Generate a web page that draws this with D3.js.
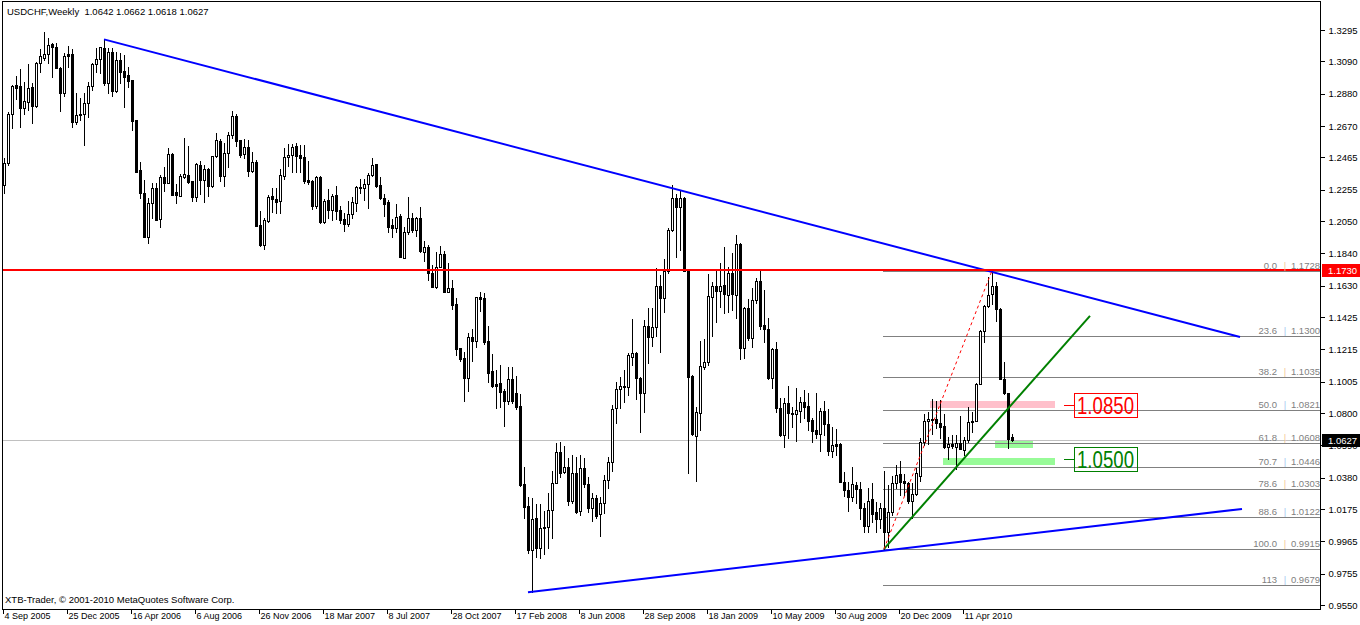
<!DOCTYPE html>
<html><head><meta charset="utf-8">
<script src="https://cdn.jsdelivr.net/npm/d3@7"></script>
<style>
html,body{margin:0;padding:0;background:#fff;}
svg{display:block;font-family:"Liberation Sans",Arial,sans-serif;}
</style></head><body>
<svg id="c" width="1360" height="625"></svg>
<script>
const symbolTitle = "USDCHF,Weekly  1.0642 1.0662 1.0618 1.0627";
const copyright = "XTB-Trader, \u00a9 2001-2010 MetaQuotes Software Corp.";

const opens = [
1.2286,1.2429,1.2748,1.2937,1.2930,1.2787,1.2826,1.2924,1.2800,1.3080,
1.3112,1.3138,1.3204,1.3184,1.3047,1.2885,1.3138,1.3138,1.2696,1.2741,
1.2748,1.2819,1.2930,1.3073,1.3106,1.3178,1.2950,1.3152,1.2898,1.3099,
1.3028,1.3002,1.2969,1.2709,1.2383,1.2234,1.1947,1.2168,1.2266,1.2064,
1.2338,1.2299,1.2487,1.2240,1.2214,1.2338,1.2351,1.2312,1.2208,1.2416,
1.2318,1.2390,1.2279,1.2474,1.2572,1.2344,1.2494,1.2611,1.2735,1.2578,
1.2487,1.2533,1.2377,1.2436,1.2025,1.1895,1.2051,1.2214,1.2195,1.2182,
1.2344,1.2468,1.2481,1.2539,1.2481,1.2468,1.2318,1.2312,1.2149,1.2338,
1.2045,1.2188,1.2123,1.2221,1.2123,1.2064,1.2032,1.2097,1.2168,1.2266,
1.2266,1.2292,1.2351,1.2422,1.2286,1.2201,1.2175,1.2025,1.2006,1.2084,
1.1810,1.1980,1.2071,1.1993,1.2071,1.1849,1.1882,1.1713,1.1622,1.1752,
1.1837,1.1589,1.1615,1.1511,1.1225,1.1159,1.1029,1.1296,1.1270,1.1556,
1.1550,1.1270,1.1075,1.0990,1.0997,1.0945,1.0879,1.1023,1.0932,1.0847,
1.0339,1.0196,0.9910,1.0118,0.9923,1.0053,1.0059,1.0170,1.0346,1.0548,
1.0417,1.0450,1.0228,1.0411,1.0164,1.0443,1.0339,1.0183,1.0248,1.0144,
1.0216,1.0365,1.0482,1.0834,1.0958,1.0971,1.0971,1.1166,1.1192,1.1029,
1.0932,1.1368,1.1296,1.1361,1.1628,1.1550,1.1726,1.1993,1.2201,1.2142,
1.2201,1.1726,1.1042,1.0652,1.0801,1.1101,1.1133,1.1556,1.1628,1.1596,
1.1635,1.1570,1.1713,1.1570,1.1902,1.1225,1.1485,1.1290,1.1537,1.1661,
1.1374,1.1348,1.1029,1.1218,1.0834,1.0659,1.0866,1.0801,1.0795,1.0814,
1.0873,1.0847,1.0756,1.0691,1.0665,1.0814,1.0730,1.0554,1.0600,1.0600,
1.0352,1.0300,1.0255,1.0333,1.0307,1.0183,1.0066,1.0241,1.0157,1.0111,
1.0183,1.0027,1.0157,1.0346,1.0404,1.0359,1.0346,1.0228,1.0274,1.0391,
1.0613,1.0749,1.0756,1.0762,1.0736,1.0717,1.0580,1.0600,1.0580,1.0606,
1.0561,1.0626,1.0743,1.0749,1.0990,1.1335,1.1498,1.1576,1.1628,1.1478,
1.1023,1.0932,1.0642];
const highs = [
1.2461,1.2761,1.2937,1.2995,1.3041,1.2956,1.3073,1.2950,1.3086,1.3171,
1.3282,1.3243,1.3210,1.3210,1.3054,1.3145,1.3191,1.3171,1.2885,1.2852,
1.2885,1.2956,1.3080,1.3178,1.3184,1.3236,1.3178,1.3178,1.3152,1.3145,
1.3132,1.3054,1.2969,1.2709,1.2436,1.2318,1.2201,1.2299,1.2299,1.2351,
1.2403,1.2526,1.2494,1.2292,1.2357,1.2591,1.2539,1.2312,1.2429,1.2442,
1.2416,1.2396,1.2474,1.2624,1.2585,1.2559,1.2631,1.2767,1.2748,1.2578,
1.2585,1.2578,1.2500,1.2448,1.2116,1.2071,1.2221,1.2266,1.2266,1.2390,
1.2526,1.2552,1.2552,1.2559,1.2546,1.2546,1.2442,1.2318,1.2344,1.2344,
1.2195,1.2260,1.2227,1.2279,1.2149,1.2103,1.2182,1.2208,1.2279,1.2325,
1.2325,1.2364,1.2461,1.2422,1.2338,1.2227,1.2188,1.2064,1.2162,1.2097,
1.2012,1.2208,1.2103,1.2077,1.2142,1.1921,1.1895,1.1765,1.1849,1.1889,
1.1856,1.1778,1.1667,1.1550,1.1225,1.1198,1.1322,1.1348,1.1556,1.1589,
1.1583,1.1368,1.1185,1.1081,1.1114,1.0958,1.1101,1.1101,1.1042,1.0925,
1.0450,1.0255,1.0248,1.0209,1.0209,1.0164,1.0281,1.0424,1.0606,1.0613,
1.0587,1.0508,1.0528,1.0515,1.0528,1.0508,1.0385,1.0281,1.0268,1.0255,
1.0398,1.0515,1.0853,1.1003,1.1036,1.1081,1.1192,1.1413,1.1198,1.1036,
1.1407,1.1485,1.1485,1.1745,1.1700,1.1804,1.2006,1.2286,1.2227,1.2253,
1.2208,1.1732,1.1049,1.0840,1.1270,1.1283,1.1706,1.1654,1.1739,1.1778,
1.1882,1.1752,1.1843,1.1960,1.1908,1.1491,1.1544,1.1615,1.1680,1.1739,
1.1602,1.1420,1.1225,1.1264,1.0899,1.0899,1.0977,1.0840,1.0964,1.0906,
1.0951,1.0932,1.0769,1.0932,1.0834,1.0879,1.0827,1.0710,1.0697,1.0606,
1.0417,1.0352,1.0450,1.0352,1.0352,1.0216,1.0313,1.0346,1.0222,1.0216,
1.0424,1.0333,1.0391,1.0463,1.0489,1.0404,1.0352,1.0346,1.0443,1.0639,
1.0795,1.0808,1.0892,1.0879,1.0886,1.0795,1.0645,1.0658,1.0658,1.0782,
1.0645,1.0840,1.0808,1.0997,1.1342,1.1504,1.1687,1.1728,1.1654,1.1485,
1.1133,1.0932,1.0662];
const lows = [
1.2234,1.2416,1.2657,1.2846,1.2663,1.2748,1.2774,1.2689,1.2793,1.3021,
1.3099,1.3080,1.2989,1.3047,1.2767,1.2865,1.3054,1.2663,1.2683,1.2709,
1.2546,1.2728,1.2904,1.3021,1.3015,1.2937,1.2885,1.2865,1.2891,1.2950,
1.2793,1.2924,1.2644,1.2370,1.2201,1.1947,1.1908,1.2071,1.2058,1.2012,
1.2247,1.2299,1.2221,1.2168,1.2214,1.2331,1.2299,1.2182,1.2182,1.2227,
1.2175,1.2214,1.2273,1.2468,1.2312,1.2279,1.2403,1.2591,1.2539,1.2468,
1.2461,1.2344,1.2370,1.2019,1.1889,1.1869,1.2045,1.2110,1.2103,1.2103,
1.2325,1.2409,1.2370,1.2370,1.2370,1.2299,1.2292,1.2129,1.2136,1.2038,
1.2038,1.2071,1.2058,1.2064,1.2038,1.1986,1.2019,1.2071,1.2116,1.2234,
1.2188,1.2136,1.2344,1.2273,1.2195,1.2084,1.1980,1.1947,1.1980,1.1817,
1.1810,1.1967,1.1980,1.1954,1.1849,1.1791,1.1667,1.1622,1.1615,1.1752,
1.1589,1.1589,1.1478,1.1179,1.1140,1.0879,1.0945,1.1140,1.1231,1.1465,
1.1251,1.1003,1.0971,1.0834,1.0840,1.0717,1.0860,1.0866,1.0827,1.0326,
1.0118,0.9890,0.9636,0.9864,0.9858,0.9884,0.9923,0.9988,1.0346,1.0385,
1.0411,1.0203,1.0215,1.0150,1.0138,1.0320,1.0157,1.0098,1.0118,1.0001,
1.0150,1.0313,1.0424,1.0736,1.0834,1.0873,1.0919,1.1114,1.0892,1.0678,
1.0808,1.1127,1.1238,1.1303,1.1198,1.1459,1.1713,1.1986,1.1817,1.1863,
1.1726,1.0411,1.0659,1.0359,1.0691,1.1088,1.1114,1.1303,1.1394,1.1491,
1.1452,1.1459,1.1472,1.1420,1.1153,1.1159,1.1277,1.1231,1.1517,1.1348,
1.1264,1.1023,1.0964,1.0808,1.0652,1.0580,1.0639,1.0710,1.0619,1.0743,
1.0769,1.0691,1.0613,1.0639,1.0554,1.0659,1.0528,1.0515,1.0528,1.0352,
1.0261,1.0164,1.0228,1.0215,1.0111,1.0027,1.0027,1.0092,1.0027,1.0053,
0.9915,0.9929,1.0138,1.0313,1.0268,1.0268,1.0215,1.0118,1.0268,1.0359,
1.0593,1.0600,1.0665,1.0704,1.0639,1.0574,1.0502,1.0574,1.0437,1.0567,
1.0528,1.0613,1.0678,1.0749,1.0990,1.1264,1.1491,1.1511,1.1400,1.1023,
1.0925,1.0574,1.0618];
const closes = [
1.2429,1.2748,1.2930,1.2917,1.2787,1.2832,1.2917,1.2800,1.3080,1.3125,
1.3138,1.3197,1.3184,1.3047,1.2885,1.3125,1.3125,1.2696,1.2741,1.2748,
1.2819,1.2930,1.3073,1.3106,1.3184,1.2950,1.3152,1.2898,1.3099,1.3021,
1.2989,1.2963,1.2702,1.2370,1.2234,1.1947,1.2168,1.2266,1.2058,1.2338,
1.2299,1.2487,1.2221,1.2221,1.2344,1.2357,1.2305,1.2208,1.2422,1.2318,
1.2390,1.2279,1.2474,1.2578,1.2344,1.2494,1.2611,1.2735,1.2572,1.2481,
1.2533,1.2377,1.2436,1.2019,1.1895,1.2058,1.2208,1.2195,1.2175,1.2351,
1.2468,1.2481,1.2533,1.2474,1.2461,1.2312,1.2305,1.2149,1.2338,1.2045,
1.2182,1.2123,1.2214,1.2116,1.2058,1.2032,1.2097,1.2175,1.2273,1.2273,
1.2292,1.2351,1.2416,1.2279,1.2201,1.2162,1.2012,1.2006,1.2077,1.1817,
1.1980,1.2071,1.1993,1.2071,1.1856,1.1882,1.1713,1.1622,1.1752,1.1837,
1.1589,1.1615,1.1504,1.1218,1.1153,1.1029,1.1296,1.1270,1.1556,1.1543,
1.1264,1.1062,1.0977,1.0977,1.0938,1.0879,1.1023,1.0879,1.0840,1.0333,
1.0190,0.9910,1.0112,0.9923,1.0053,1.0059,1.0170,1.0346,1.0548,1.0411,
1.0450,1.0228,1.0411,1.0157,1.0443,1.0339,1.0183,1.0248,1.0131,1.0216,
1.0365,1.0482,1.0827,1.0958,1.0977,1.0977,1.1179,1.1192,1.1029,1.0932,
1.1368,1.1296,1.1361,1.1628,1.1550,1.1726,1.1993,1.2201,1.2142,1.2201,
1.1726,1.1036,1.0665,1.0808,1.1107,1.1133,1.1563,1.1628,1.1596,1.1628,
1.1576,1.1713,1.1576,1.1902,1.1225,1.1485,1.1290,1.1537,1.1661,1.1368,
1.1348,1.1029,1.1218,1.0834,1.0659,1.0866,1.0801,1.0795,1.0821,1.0873,
1.0840,1.0749,1.0684,1.0665,1.0814,1.0730,1.0554,1.0593,1.0587,1.0352,
1.0300,1.0255,1.0339,1.0307,1.0183,1.0066,1.0228,1.0144,1.0111,1.0183,
1.0027,1.0157,1.0346,1.0398,1.0352,1.0346,1.0228,1.0274,1.0411,1.0613,
1.0749,1.0762,1.0760,1.0736,1.0710,1.0580,1.0600,1.0587,1.0606,1.0567,
1.0626,1.0743,1.0749,1.0990,1.1335,1.1498,1.1570,1.1628,1.1478,1.1023,
1.0932,1.0632,1.0627];

const dateLabels = ["4 Sep 2005","25 Dec 2005","16 Apr 2006","6 Aug 2006","26 Nov 2006","18 Mar 2007","8 Jul 2007","28 Oct 2007","17 Feb 2008","8 Jun 2008","28 Sep 2008","18 Jan 2009","10 May 2009","30 Aug 2009","20 Dec 2009","11 Apr 2010"];
const dateLabelBars = [0,16,32,48,64,80,96,112,128,144,160,176,192,208,224,240];
const priceTicks = [1.3295,1.3090,1.2880,1.2670,1.2465,1.2255,1.2050,1.1840,1.1630,1.1425,1.1215,1.1005,1.0800,1.0590,1.0380,1.0175,0.9965,0.9755,0.9550];

const fibLevelText = ["0.0","23.6","38.2","50.0","61.8","70.7","78.6","88.6","100.0","113"];
const fibPrices = [1.1728,1.1300,1.1035,1.0821,1.0608,1.0446,1.0303,1.0122,0.9915,0.9679];
const fibStartBar = 219.75;
const fibAnchor = [[220,0.9915],[247,1.1728]];

const resistancePrice = 1.1730;
const lastPrice = 1.0627;
const trendTop = [[25,1.3234],[309,1.1296]];
const trendBottom = [[131,0.9633],[309.5,1.0176]];
const trendGreen = [[220,0.9915],[271.5,1.1433]];

const zoneBars = [[231.5,262.75],[247.75,257.25],[234.75,262.75]];
const zonePrices = [[1.0879,1.0834],[1.0619,1.0574],[1.0508,1.0463]];
const zoneColors = ["#ffc0cb","#98fb98","#98fb98"];

const targetPrices = [1.0850,1.0500];
const targetText = ["1.0850","1.0500"];
const targetColors = ["#ff0000","#008000"];
const targetBars = [265,267.5,283.25];

// ---------------------------------------------------------------
const svg = d3.select("#c");
const FONT = "Liberation Sans, Arial, sans-serif";
const plotL = 2, plotR = 1320, plotT = 1, plotB = 609;
const x = d3.scaleLinear().domain([0,329]).range([4,1320]);
const y = d3.scaleLinear().domain([0.9550,1.3295]).range([605,30]);
const R = v => Math.round(v);

svg.append("rect").attr("width",1360).attr("height",625).attr("fill","#fff");
svg.append("defs").append("clipPath").attr("id","clip")
  .append("rect").attr("x",plotL+0.5).attr("y",plotT+0.5).attr("width",plotR-plotL-0.5).attr("height",plotB-plotT-0.5);

const plot = svg.append("g").attr("clip-path","url(#clip)");

// zones
plot.append("g").selectAll("rect").data(zoneBars).join("rect")
  .attr("x",(d)=>R(x(d[0]))).attr("width",d=>R(x(d[1]))-R(x(d[0])))
  .attr("y",(d,i)=>R(y(zonePrices[i][0]))).attr("height",(d,i)=>R(y(zonePrices[i][1]))-R(y(zonePrices[i][0])))
  .attr("fill",(d,i)=>zoneColors[i]);

// current price line
plot.append("line").attr("x1",plotL).attr("x2",plotR)
  .attr("y1",R(y(lastPrice))+0.5).attr("y2",R(y(lastPrice))+0.5)
  .attr("stroke","#c0c0c0").attr("stroke-width",1);

// fib lines
plot.append("g").selectAll("line").data(fibPrices).join("line")
  .attr("x1",R(x(fibStartBar))).attr("x2",plotR)
  .attr("y1",d=>R(y(d))+0.5).attr("y2",d=>R(y(d))+0.5)
  .attr("stroke","#808080").attr("stroke-width",1);

// candles
const bars = opens.map((o,i)=>({i,o,h:highs[i],l:lows[i],c:closes[i]}));
const cg = plot.append("g").attr("shape-rendering","crispEdges");
cg.selectAll("line").data(bars).join("line")
  .attr("x1",d=>R(x(d.i))+0.5).attr("x2",d=>R(x(d.i))+0.5)
  .attr("y1",d=>R(y(d.h))).attr("y2",d=>R(y(d.l))+1)
  .attr("stroke","#000").attr("stroke-width",1);
cg.selectAll("rect.dn").data(bars.filter(d=>d.c<d.o)).join("rect").attr("class","dn")
  .attr("x",d=>R(x(d.i))-1).attr("width",3)
  .attr("y",d=>R(y(d.o))).attr("height",d=>Math.max(1,R(y(d.c))-R(y(d.o))+1))
  .attr("fill","#000");
cg.selectAll("rect.up").data(bars.filter(d=>d.c>=d.o)).join("rect").attr("class","up")
  .attr("x",d=>R(x(d.i))-0.5).attr("width",2)
  .attr("y",d=>R(y(d.c))+0.5).attr("height",d=>Math.max(0,R(y(d.o))-R(y(d.c))))
  .attr("fill","#fff").attr("stroke","#000").attr("stroke-width",1);

// trend lines
const lineGen = d3.line().x(d=>x(d[0])).y(d=>y(d[1]));
plot.append("path").attr("d",lineGen(trendTop)).attr("fill","none").attr("stroke","#0000ff").attr("stroke-width",2);
plot.append("path").attr("d",lineGen(trendBottom)).attr("fill","none").attr("stroke","#0000ff").attr("stroke-width",2);
plot.append("path").attr("d",lineGen(trendGreen)).attr("fill","none").attr("stroke","#008000").attr("stroke-width",2);
plot.append("path").attr("d",lineGen(fibAnchor)).attr("fill","none").attr("stroke","#ff0000").attr("stroke-width",1).attr("stroke-dasharray","3,3");
plot.append("line").attr("x1",plotL).attr("x2",plotR)
  .attr("y1",R(y(resistancePrice))).attr("y2",R(y(resistancePrice)))
  .attr("stroke","#ff0000").attr("stroke-width",2);

// fib labels
const fl = plot.append("g").attr("font-family",FONT).attr("font-size","9.5px").attr("fill","#808080");
fibPrices.forEach((p,k)=>{
  const yy = R(y(p)) - 2;
  fl.append("text").attr("x",1277).attr("y",yy).attr("text-anchor","end").text(fibLevelText[k]);
  fl.append("text").attr("x",1285).attr("y",yy).attr("text-anchor","middle").attr("fill",k%2?"#a8c8f0":"#f5c89a").text("|");
  fl.append("text").attr("x",1320).attr("y",yy).attr("text-anchor","end").text(p.toFixed(4));
});

// target labels
targetPrices.forEach((p,k)=>{
  const yc = y(p);
  const x0 = R(x(targetBars[1])), x1 = R(x(targetBars[2]));
  plot.append("line").attr("x1",R(x(targetBars[0]))).attr("x2",x0).attr("y1",R(yc)+0.5).attr("y2",R(yc)+0.5)
    .attr("stroke",targetColors[k]).attr("stroke-width",1);
  plot.append("rect").attr("x",x0+0.5).attr("y",R(yc-12)+0.5).attr("width",x1-x0).attr("height",24)
    .attr("fill","none").attr("stroke",targetColors[k]).attr("stroke-width",1);
  plot.append("text").attr("x",x0+3).attr("y",R(yc)+9).attr("font-family",FONT).attr("font-size","24px")
    .attr("fill",targetColors[k]).attr("textLength",x1-x0-6).attr("lengthAdjust","spacingAndGlyphs").text(targetText[k]);
});

// frame
svg.append("rect").attr("x",plotL+0.5).attr("y",plotT+0.5).attr("width",plotR-plotL).attr("height",plotB-plotT)
  .attr("fill","none").attr("stroke","#000").attr("stroke-width",1).attr("shape-rendering","crispEdges");

// title & copyright
svg.append("text").attr("x",7).attr("y",15).attr("font-family",FONT).attr("font-size","9.5px").attr("fill","#000").style("white-space","pre").text(symbolTitle);
svg.append("text").attr("x",5).attr("y",603).attr("font-family",FONT).attr("font-size","9.5px").attr("fill","#000").text(copyright);

// price axis
const yAxis = d3.axisRight(y).tickValues(priceTicks).tickFormat(d3.format(".4f")).tickSize(4).tickSizeOuter(0).tickPadding(4);
const ya = svg.append("g").attr("transform",`translate(${plotR+0.5},0)`).call(yAxis);
ya.select(".domain").remove();
ya.selectAll("line").attr("stroke","#000").attr("shape-rendering","crispEdges");
ya.selectAll("text").attr("font-family",FONT).attr("font-size","9.5px").attr("fill","#000");

// price tags
[[resistancePrice,"#ff0000","1.1730"],[lastPrice,"#000000","1.0627"]].forEach(t=>{
  const yc = R(y(t[0]));
  svg.append("rect").attr("x",plotR+2).attr("y",yc-6).attr("width",38).attr("height",13).attr("fill",t[1]);
  svg.append("text").attr("x",plotR+8).attr("y",yc+4).attr("font-family",FONT).attr("font-size","9.5px").attr("fill","#fff").text(t[2]);
});

// date axis
const xAxis = d3.axisBottom(x).tickValues(dateLabelBars).tickFormat((d,i)=>dateLabels[i]).tickSize(4).tickSizeOuter(0).tickPadding(0);
const xa = svg.append("g").attr("transform",`translate(-1.5,${plotB+0.5})`).call(xAxis);
xa.select(".domain").remove();
xa.selectAll("line").attr("stroke","#000").attr("shape-rendering","crispEdges");
xa.selectAll("text").attr("font-family",FONT).attr("font-size","9px").attr("fill","#000").attr("text-anchor","start").attr("dx","1.5").attr("dy","0.65em");
</script>
</body></html>
